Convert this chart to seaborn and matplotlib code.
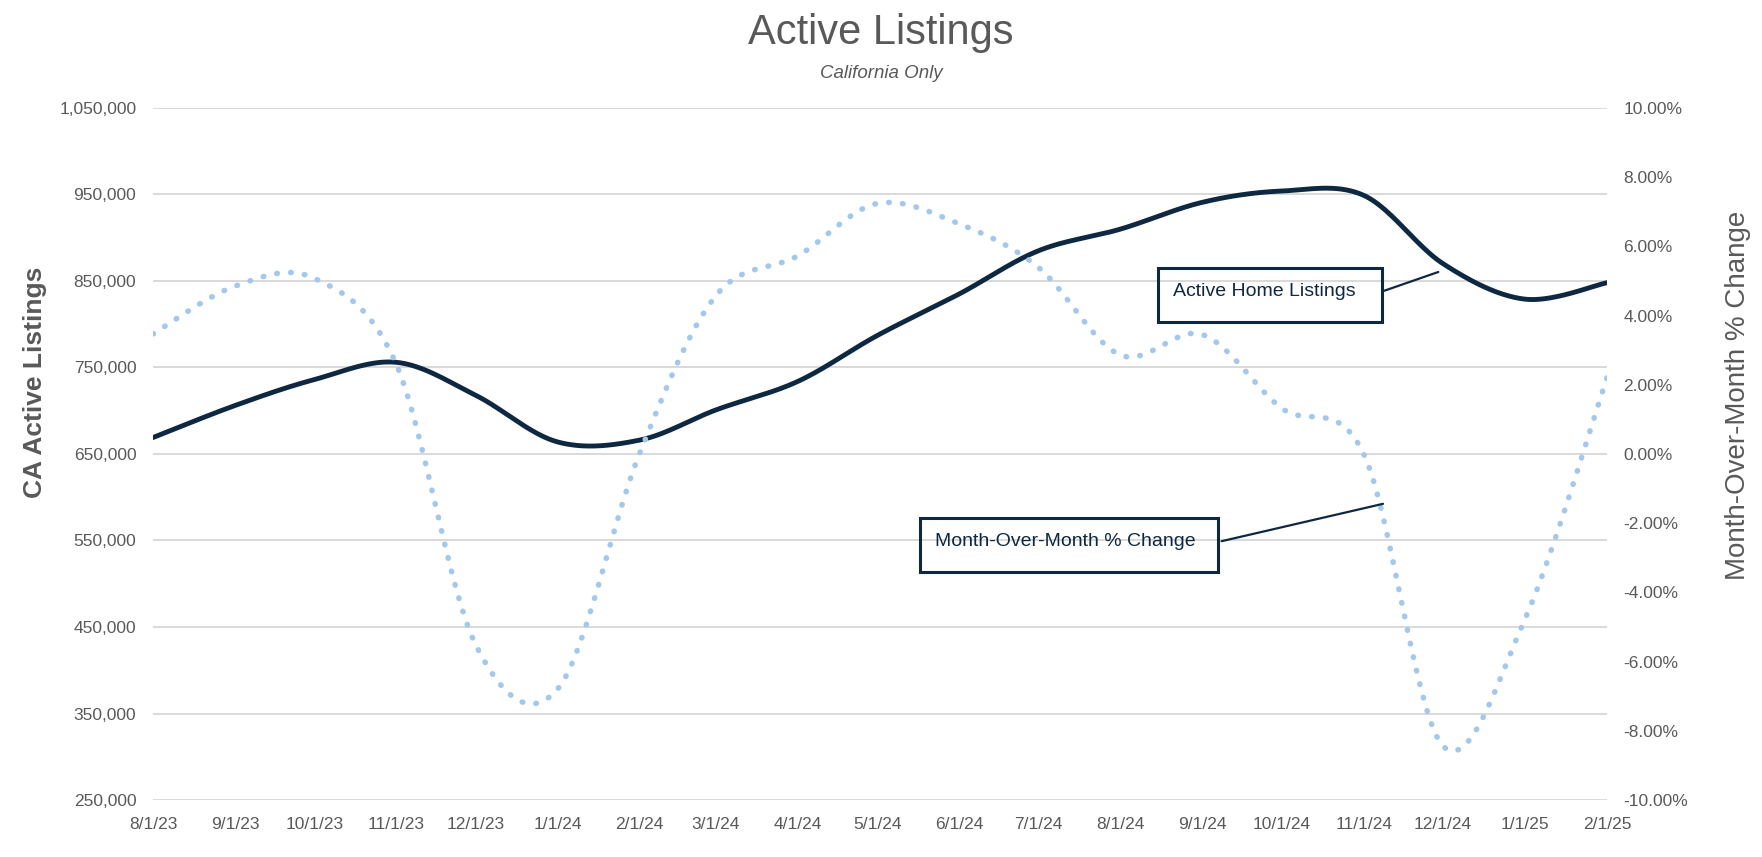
import numpy as np
import pandas as pd
import matplotlib
matplotlib.use('Agg')
import matplotlib.pyplot as plt
import matplotlib.dates as mdates
import matplotlib.ticker as mticker
from matplotlib.patches import Rectangle
import seaborn as sns

# ---- data ----
dates = ['2023-08-01', '2023-09-01', '2023-10-01', '2023-11-01', '2023-12-01',
         '2024-01-01', '2024-02-01', '2024-03-01', '2024-04-01', '2024-05-01',
         '2024-06-01', '2024-07-01', '2024-08-01', '2024-09-01', '2024-10-01',
         '2024-11-01', '2024-12-01', '2025-01-01', '2025-02-01']

listings = [669000, 706000, 736000, 756000, 718000, 664000, 666000, 701000,
            734000, 787000, 835000, 885000, 910000, 941000, 954000, 949000,
            870000, 829000, 848000]

mom_change = [3.47, 4.85, 5.08, 2.60, -5.50, -6.80, 0.00, 4.58, 5.73, 7.24,
              6.65, 5.39, 2.86, 3.45, 1.32, 0.00, -8.44, -4.77, 2.20]

NAVY = '#0E2841'
LIGHT_BLUE = '#A3C8EC'
GRAY = '#595959'
GRID = '#D9D9D9'


def smooth(xs, ys, n=40):
    # catmull-rom curve through the points, like excel's "smoothed line"
    px = np.r_[xs[0], xs, xs[-1]].astype(float)
    py = np.r_[ys[0], ys, ys[-1]].astype(float)
    t = np.linspace(0, 1, n, endpoint=False)[:, None]
    h00 = 2 * t**3 - 3 * t**2 + 1
    h10 = t**3 - 2 * t**2 + t
    h01 = -2 * t**3 + 3 * t**2
    h11 = t**3 - t**2

    def seg(p):
        p0, p1, p2, p3 = p[:-3], p[1:-2], p[2:-1], p[3:]
        m1 = (p2 - p0) / 2
        m2 = (p3 - p1) / 2
        out = h00 * p1 + h10 * m1 + h01 * p2 + h11 * m2
        return np.r_[out.T.ravel(), p[-2]]

    return seg(px), seg(py)


x_num = mdates.date2num(pd.to_datetime(dates))
sx1, sy1 = smooth(x_num, listings)
sx2, sy2 = smooth(x_num, mom_change)

# ---- figure ----
sns.set_theme(style='white')
plt.rcParams['font.family'] = ['Liberation Sans', 'DejaVu Sans']

fig = plt.figure(figsize=(17.62, 8.57), dpi=100)
ax = fig.add_axes([0.0868, 0.0665, 0.8252, 0.8075])
ax2 = ax.twinx()

sns.lineplot(x=sx1, y=sy1, ax=ax, color=NAVY, linewidth=3.5, sort=False)
sns.lineplot(x=sx2, y=sy2, ax=ax2, color=LIGHT_BLUE, linewidth=4.0,
             linestyle=(0, (0.1, 2.4)), dash_capstyle='round', sort=False)

# left axis
ax.set_ylim(250000, 1050000)
ax.set_yticks(np.arange(250000, 1050001, 100000))
ax.yaxis.set_major_formatter(mticker.FuncFormatter(lambda v, p: f'{v:,.0f}'))
ax.yaxis.grid(True, color=GRID, linewidth=1.4)
ax.set_axisbelow(True)

# right axis
ax2.set_ylim(-10, 10)
ax2.set_yticks(np.arange(-10, 10.1, 2))
ax2.yaxis.set_major_formatter(mticker.FuncFormatter(lambda v, p: f'{v:.2f}%'))
ax2.grid(False)

# x axis
ax.set_xlim(x_num[0], x_num[-1])
ax.set_xticks(x_num)
ax.set_xticklabels([f'{d.month}/{d.day}/{d.year % 100}' for d in pd.to_datetime(dates)])

for a in (ax, ax2):
    for s in a.spines.values():
        s.set_visible(False)
    a.tick_params(length=0, labelsize=12.5, labelcolor=GRAY)
ax.tick_params(axis='x', pad=12)
ax.tick_params(axis='y', pad=12)
ax2.tick_params(axis='y', pad=12)

ax.set_ylabel('CA Active Listings', fontsize=19, fontweight='bold', color=GRAY)
ax.yaxis.set_label_coords(-0.073, 0.604)
ax2.set_ylabel('Month-Over-Month % Change', fontsize=20, color=GRAY)
ax2.yaxis.set_label_coords(1.081, 0.585)

# titles
fig.text(0.5, 0.962, 'Active Listings', ha='center', va='center', fontsize=30, color=GRAY)
fig.text(0.5, 0.914, 'California Only', ha='center', va='center', fontsize=13.5,
         style='italic', color=GRAY)

# boxed series labels with leader lines
ax2.add_patch(Rectangle((0.691, 0.691), 0.154, 0.078, transform=ax2.transAxes,
                        fill=False, edgecolor=NAVY, linewidth=2.2, zorder=5))
ax2.text(0.7015, 0.735, 'Active Home Listings', transform=ax2.transAxes,
         ha='left', va='center', fontsize=14, color=NAVY, zorder=6)
ax2.plot([0.847, 0.884], [0.736, 0.763], transform=ax2.transAxes, color=NAVY, lw=1.6)

ax2.add_patch(Rectangle((0.5275, 0.3295), 0.205, 0.078, transform=ax2.transAxes,
                        fill=False, edgecolor=NAVY, linewidth=2.2, zorder=5))
ax2.text(0.538, 0.373, 'Month-Over-Month % Change', transform=ax2.transAxes,
         ha='left', va='center', fontsize=14, color=NAVY, zorder=6)
ax2.plot([0.735, 0.846], [0.374, 0.428], transform=ax2.transAxes, color=NAVY, lw=1.6)

fig.savefig('out.png', dpi=100)
